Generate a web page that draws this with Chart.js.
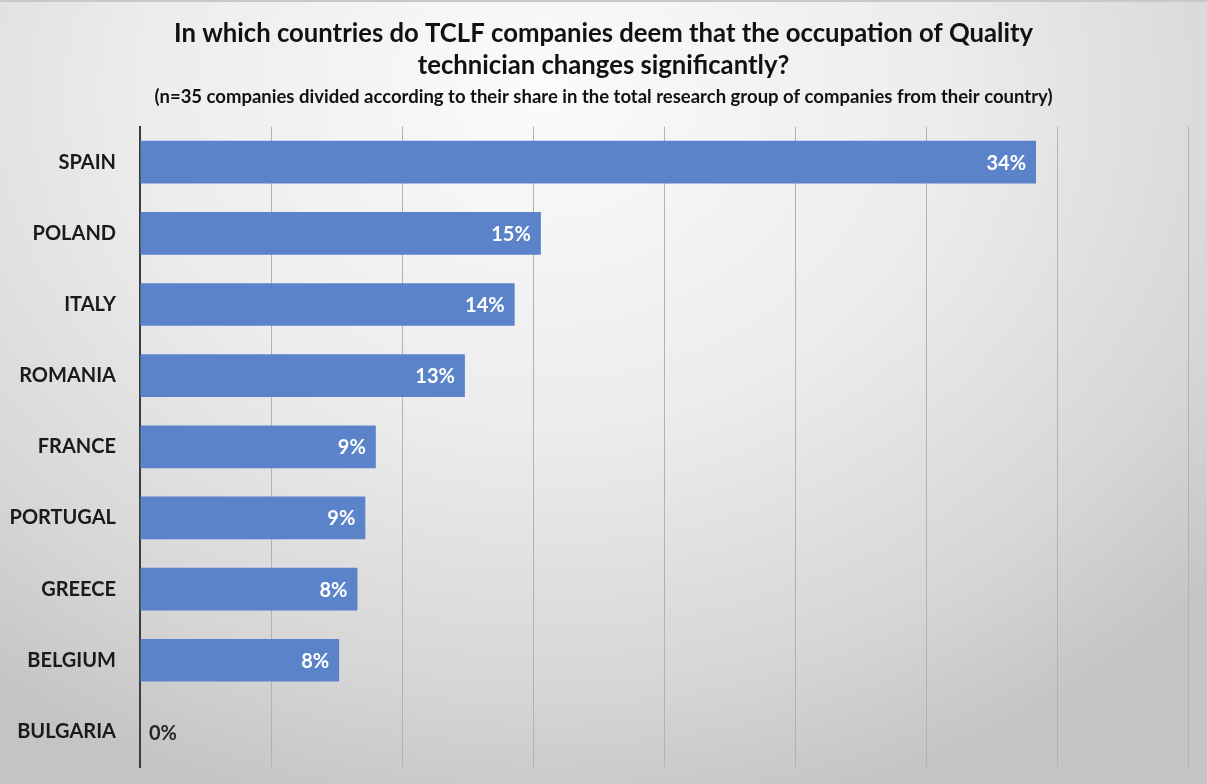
<!DOCTYPE html>
<html>
<head>
<meta charset="utf-8">
<script src="https://cdn.jsdelivr.net/npm/chart.js@4/dist/chart.umd.min.js"></script>
<style>
  html, body { margin: 0; padding: 0; }
  body {
    width: 1207px; height: 784px; overflow: hidden;
    background: radial-gradient(ellipse 75% 95% at 45% 12%, #fbfbfb 0%, #ececec 45%, #d6d6d6 80%, #c4c4c4 100%);
    border-top: 2px solid #c8c8c8;
    box-sizing: border-box;
  }
  #wrap { position: relative; width: 1207px; height: 782px; }
</style>
</head>
<body>
<div id="wrap"><canvas id="chart"></canvas></div>
<script>
// data
const countries = ['SPAIN', 'POLAND', 'ITALY', 'ROMANIA', 'FRANCE', 'PORTUGAL', 'GREECE', 'BELGIUM', 'BULGARIA'];
const shares = [34.2, 15.3, 14.3, 12.4, 9.0, 8.6, 8.3, 7.6, 0];
const shareLabels = ['34%', '15%', '14%', '13%', '9%', '9%', '8%', '8%', '0%'];
const axisMax = 40;
const axisStep = 5;

const titleLines = [
  'In which countries do TCLF companies deem that the occupation of Quality',
  'technician changes significantly?'
];
const subtitleText = '(n=35 companies divided according to their share in the total research group of companies from their country)';

const FONT = "Lato, 'Open Sans', sans-serif";

// value labels at the bar ends
const barLabels = {
  id: 'barLabels',
  afterDatasetsDraw(chart) {
    const ctx = chart.ctx;
    const meta = chart.getDatasetMeta(0);
    ctx.save();
    ctx.font = 'bold 20px ' + FONT;
    ctx.textBaseline = 'middle';
    meta.data.forEach((bar, i) => {
      if (shares[i] > 0) {
        ctx.fillStyle = '#ffffff';
        ctx.textAlign = 'right';
        ctx.fillText(shareLabels[i], bar.x - 10, bar.y + 1);
      } else {
        ctx.fillStyle = '#262626';
        ctx.textAlign = 'left';
        ctx.fillText(shareLabels[i], bar.base + 9, bar.y + 2);
      }
    });
    ctx.restore();
  }
};

new Chart(document.getElementById('chart'), {
  type: 'bar',
  data: {
    labels: countries,
    datasets: [{
      data: shares,
      backgroundColor: '#5a83ca',
      borderWidth: 0,
      categoryPercentage: 1,
      barPercentage: 0.6
    }]
  },
  options: {
    indexAxis: 'y',
    responsive: true,
    maintainAspectRatio: false,
    animation: false,
    layout: { padding: { left: 0, right: 0, top: 0, bottom: 17 } },
    plugins: {
      legend: { display: false },
      tooltip: { enabled: false },
      title: {
        display: true,
        text: titleLines,
        color: '#111111',
        font: { family: FONT, size: 25.7, weight: 'bold', lineHeight: 1.25 },
        padding: { top: 16, bottom: 5 }
      },
      subtitle: {
        display: true,
        text: subtitleText,
        color: '#111111',
        font: { family: FONT, size: 18.5, weight: 'bold', lineHeight: 1.1 },
        padding: { top: 0, bottom: 19 }
      }
    },
    scales: {
      x: {
        min: 0,
        max: axisMax,
        ticks: { display: false, stepSize: axisStep },
        grid: { color: '#b2b2b2', lineWidth: 1, drawTicks: false },
        border: { display: false },
        afterFit: (scale) => {
          scale.height = 0;
          scale.paddingLeft = 0;
          scale.paddingRight = 19;
        }
      },
      y: {
        grid: { display: false, drawTicks: false },
        border: { display: true, color: '#3c3c3c', width: 2 },
        ticks: {
          color: '#1a1a1a',
          padding: 24,
          font: { family: FONT, size: 20, weight: 'bold' }
        },
        afterFit: (scale) => {
          scale.width = 140;
          scale.paddingTop = 0;
          scale.paddingBottom = 0;
        }
      }
    }
  },
  plugins: [barLabels]
});
</script>
</body>
</html>
